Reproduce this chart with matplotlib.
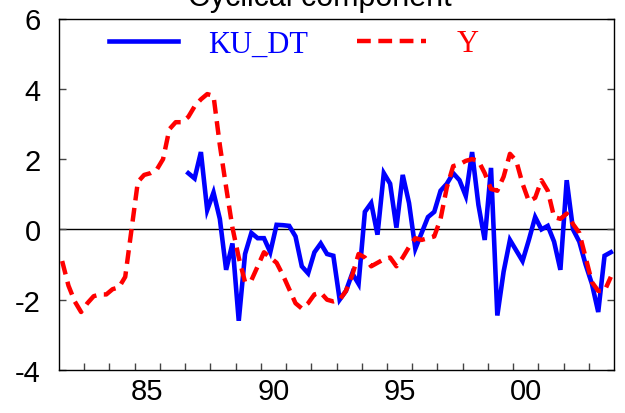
import numpy as np
import matplotlib
matplotlib.use("Agg")
import matplotlib.pyplot as plt

# quarterly observations, 1982Q1 .. 2003Q4 (plotted at quarter mid-points)
start_year = 1982
n_quarters = 88

y_series = [-0.90, -1.60, -2.05, -2.35, -2.10, -1.90, -1.85, -1.85, -1.70, -1.65,
            -1.35, 0.00, 1.35, 1.55, 1.60, 1.70, 2.00, 2.85, 3.05, 3.05,
            3.20, 3.50, 3.70, 3.85, 3.80, 2.40, 1.20, 0.05, -0.80, -1.50,
            -1.45, -1.05, -0.65, -0.80, -0.95, -1.30, -1.70, -2.10, -2.25, -2.10,
            -1.85, -1.80, -2.00, -2.05, -2.00, -1.75, -1.30, -0.70, -0.80, -1.05,
            -0.95, -0.85, -0.80, -1.05, -0.80, -0.50, -0.25, -0.30, -0.25, -0.20,
            0.30, 1.20, 1.80, 1.85, 1.95, 2.00, 1.95, 1.60, 1.15, 1.10,
            1.50, 2.15, 1.95, 1.30, 0.80, 0.90, 1.40, 1.10, 0.35, 0.30,
            0.45, 0.15, -0.10, -0.80, -1.50, -1.75, -1.75, -1.35]

ku_dt_start_index = 20  # 1987Q1
ku_dt_series = [1.60, 1.45, 2.20, 0.55, 1.05, 0.30, -1.15, -0.40, -2.60, -0.70,
                -0.10, -0.25, -0.25, -0.65, 0.13, 0.12, 0.10, -0.20, -1.05, -1.25,
                -0.65, -0.40, -0.70, -0.75, -2.00, -1.75, -1.25, -1.55, 0.50, 0.75,
                -0.15, 1.60, 1.30, 0.05, 1.55, 0.75, -0.55, -0.10, 0.35, 0.50,
                1.10, 1.30, 1.60, 1.40, 0.95, 2.20, 0.70, -0.30, 1.75, -2.45,
                -1.20, -0.30, -0.60, -0.90, -0.30, 0.35, 0.00, 0.10, -0.35, -1.15,
                1.40, 0.00, -0.35, -1.00, -1.55, -2.35, -0.75, -0.65]

year_ticks = list(range(1983, 2004))
year_label_pos = [1985.5, 1990.5, 1995.5, 2000.5]
year_labels = ["85", "90", "95", "00"]
y_ticks = [-4, -2, 0, 2, 4, 6]
series_names = ["KU_DT", "Y"]
title = "Cyclical component"

t = start_year + (np.arange(n_quarters) + 0.5) / 4.0
ku = np.full(n_quarters, np.nan)
ku[ku_dt_start_index:ku_dt_start_index + len(ku_dt_series)] = ku_dt_series

fig = plt.figure(figsize=(6.25, 4.14), dpi=100)
ax = fig.add_axes([59 / 625, 1 - 371 / 414, (614 - 59) / 625, (371 - 19.5) / 414])

ax.axhline(0, color="black", lw=1.0, zorder=1)
l1, = ax.plot(t, ku, color="#0000ff", lw=3.3, zorder=3, solid_joinstyle="miter")
l2, = ax.plot(t, y_series, color="#ff0000", lw=3.2, zorder=4,
              linestyle=(0, (3.1, 1.7)))

ax.set_xlim(1982, 2004)
ax.set_ylim(-4, 6)

sans = ["Liberation Sans", "DejaVu Sans"]
ax.set_yticks(y_ticks)
ax.set_yticklabels([str(v) for v in y_ticks], family=sans, fontsize=21)
ax.set_xticks(year_ticks)
ax.set_xticklabels([""] * len(year_ticks))
ax.set_xticks(year_label_pos, minor=True)
ax.set_xticklabels(year_labels, minor=True, family=sans, fontsize=21)

ax.tick_params(axis="y", which="both", direction="in", length=5, width=1,
               left=True, right=True, pad=13, color="#444444")
ax.tick_params(axis="x", which="major", direction="in", length=5, width=1,
               bottom=True, top=False, color="#444444")
ax.tick_params(axis="x", which="minor", length=0, pad=5)

for s in ax.spines.values():
    s.set_linewidth(1.0)
    s.set_color("black")

fig.text(320 / 625, 1 - 6 / 414, title, ha="center", va="baseline",
         family=sans, fontsize=22)

leg = ax.legend([l1, l2], series_names, ncol=2, frameon=False,
                loc="center left", bbox_to_anchor=(109 / 625, 1 - 45 / 414),
                bbox_transform=fig.transFigure, borderpad=0, borderaxespad=0,
                handlelength=2.25, handletextpad=1.0, columnspacing=1.6,
                prop={"family": ["Liberation Serif", "DejaVu Serif"], "size": 22})
for txt, c in zip(leg.get_texts(), ["#0000ff", "#ff0000"]):
    txt.set_color(c)

fig.savefig("out.png", dpi=100)
